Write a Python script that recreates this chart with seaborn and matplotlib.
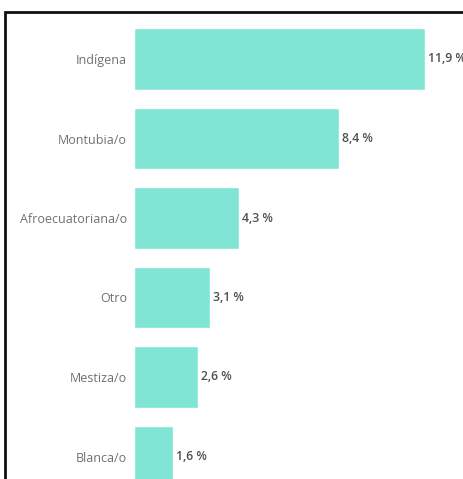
import matplotlib
matplotlib.use("Agg")
import matplotlib.pyplot as plt
import seaborn as sns
import pandas as pd
from matplotlib.patches import Rectangle

categories = ["Indígena", "Montubia/o", "Afroecuatoriana/o", "Otro", "Mestiza/o", "Blanca/o"]
values = [11.9, 8.4, 4.3, 3.1, 2.6, 1.6]
value_labels = ["11,9 %", "8,4 %", "4,3 %", "3,1 %", "2,6 %", "1,6 %"]

df = pd.DataFrame({"cat": categories, "val": values})

sns.set_theme(style="white")
plt.rcParams["font.family"] = ["Open Sans", "DejaVu Sans"]

W, H = 464, 479
fig = plt.figure(figsize=(W / 100, H / 100), dpi=100)
fig.patch.set_facecolor("white")

# frame (extends beyond right/bottom edges)
fig.patches.append(Rectangle((5 / W, -0.1), 1.2, 1 - 11.5 / H + 0.1,
                             transform=fig.transFigure, fill=False,
                             edgecolor="#111111", linewidth=2.0, zorder=0))

left_px = 134
ax = fig.add_axes([left_px / W, 0, (W - left_px) / W, 1])
ax.set_facecolor("none")
sns.barplot(data=df, x="val", y="cat", ax=ax, color="#80E5D4",
            width=0.77, saturation=1, orient="h")

px_per_unit = 24.45
ax.set_xlim(0, (W - left_px) / px_per_unit)
spacing = 79.5
top_center = 59
ax.set_ylim((H - top_center) / spacing, -top_center / spacing)

for i, (v, lab) in enumerate(zip(values, value_labels)):
    ax.text(v + 0.12, i, lab, va="center", ha="left", fontsize=8.8,
            fontweight="semibold", color="#505050", clip_on=False)

ax.set_xlabel("")
ax.set_ylabel("")
ax.set_xticks([])
ax.tick_params(axis="y", length=0, pad=5, labelsize=9, labelcolor="#707070")
for s in ax.spines.values():
    s.set_visible(False)

fig.savefig("out.png", dpi=100, facecolor="white")
